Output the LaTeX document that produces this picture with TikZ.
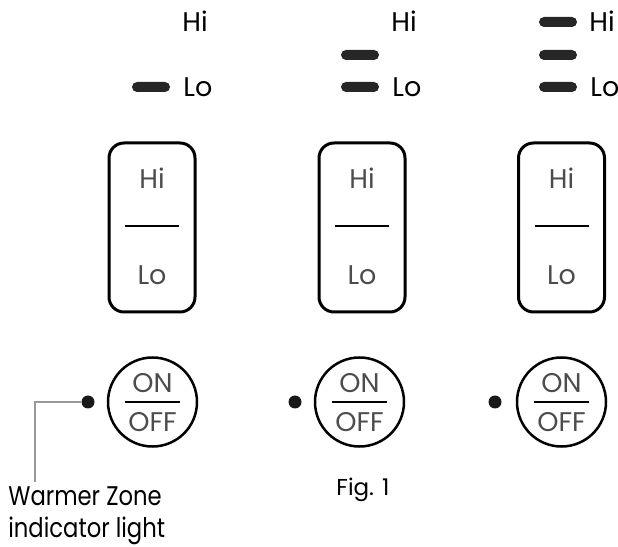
\documentclass[tikz,border=0pt]{standalone}
\usepackage{fontspec}
\setmainfont{Poppins}
\newfontfamily\notefont{Poppins}[FakeStretch=0.84]
\usetikzlibrary{positioning}

\begin{document}
\begin{tikzpicture}[x=1pt,y=1pt,thick,
  bar/.style={rectangle,rounded corners=5pt,fill=black!85,minimum width=38pt,minimum height=10pt,inner sep=0pt},
  lbl/.style={anchor=base west,inner sep=0pt,font=\fontsize{27}{32}\selectfont},
  key/.style={rectangle,rounded corners=15pt,draw,line width=3pt,minimum width=86pt,minimum height=169pt},
  keytext/.style={anchor=base,inner sep=0pt,text=black!70,font=\fontsize{27}{32}\selectfont},
  knob/.style={circle,draw,line width=2.5pt,minimum size=89pt,inner sep=0pt},
  lamp/.style={circle,fill=black!90,minimum size=13pt,inner sep=0pt},
  leader/.style={draw=black!40,line width=2pt}]
  \useasboundingbox (0,0) rectangle (618,546);

  % indicator bars and labels
  \node[bar] (lo1) at (151,459) {};
  \node[lbl] (hil1) at (182,514) {Hi};
  \node[lbl] (lol1) at (183,449) {Lo};

  \node[bar] (mid2) at (360,491) {};
  \node[bar] (lo2) at (360,459) {};
  \node[lbl] (hil2) at (391,514) {Hi};
  \node[lbl] (lol2) at (392,449) {Lo};

  \node[bar] (hi3) at (558,524) {};
  \node[bar] (mid3) at (558,491) {};
  \node[bar] (lo3) at (558,459) {};
  \node[lbl] (hil3) at (589,514) {Hi};
  \node[lbl] (lol3) at (590,449) {Lo};

  % Hi/Lo keys
  \node[key] (k1) at (152,318.5) {};
  \node[key] (k2) at (362,318.5) {};
  \node[key] (k3) at (561.5,318.5) {};
  \foreach \k in {k1,k2,k3} {
    \node[keytext] at ([yshift=38.5pt]\k.center) {Hi};
    \node[keytext] at ([yshift=-57.5pt]\k.center) {Lo};
    \draw[line width=2.5pt] ([xshift=-27pt,yshift=1.5pt]\k.center) -- ([xshift=27pt,yshift=1.5pt]\k.center);
  }

  % ON/OFF switches
  \node[knob] (sw1) at (152.5,144) {};
  \node[knob] (sw2) at (359.5,144) {};
  \node[knob] (sw3) at (561.5,144) {};
  \foreach \s in {sw1,sw2,sw3} {
    \node[keytext] at ([yshift=9pt]\s.center) {ON};
    \node[keytext] at ([yshift=-30pt]\s.center) {OFF};
    \draw[line width=2.5pt] ([xshift=-27.5pt]\s.center) -- ([xshift=27.5pt]\s.center);
  }

  % warmer zone lights
  \node[lamp] (lamp1) at (88,144) {};
  \node[lamp] (lamp2) at (295,144) {};
  \node[lamp] (lamp3) at (495,144) {};

  \coordinate (tip) at (35,64);
  \draw[leader] (lamp1.west) -| (tip);
  \node[lbl,align=left,font=\notefont\fontsize{27}{32}\selectfont] (warm) at (8,8.5) {Warmer Zone\\indicator light};

  \node[lbl,anchor=base,font=\fontsize{23}{28}\selectfont] (fig) at (363,51) {Fig. 1};
\end{tikzpicture}
\end{document}
